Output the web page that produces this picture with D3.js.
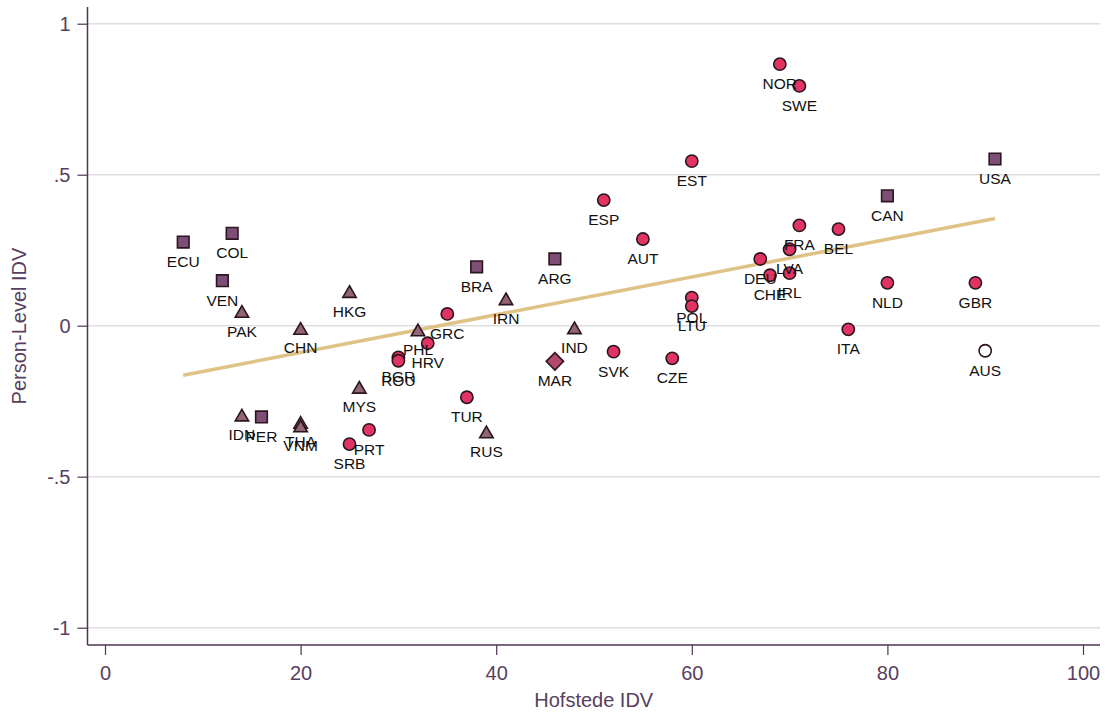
<!DOCTYPE html>
<html>
<head>
<meta charset="utf-8">
<script src="https://cdn.jsdelivr.net/npm/d3@7"></script>
<style>
  html, body { margin: 0; padding: 0; background: #fff; }
  svg { display: block; font-family: "Liberation Sans", Arial, Helvetica, sans-serif; }
</style>
</head>
<body>
<svg id="chart" width="1109" height="715"></svg>
<script>
// ---- data ----
const codes = ["ECU","COL","VEN","PER","BRA","ARG","CAN","USA",
  "PAK","HKG","CHN","IDN","THA","VNM","MYS","PHL","IRN","IND","RUS",
  "MAR",
  "BGR","ROU","HRV","GRC","TUR","PRT","SRB","ESP","AUT","SVK","CZE","EST","POL","LTU",
  "NOR","SWE","DEU","CHE","FRA","LVA","IRL","BEL","NLD","ITA","GBR",
  "AUS"];
const hofstedeIDV = [8,13,12,16,38,46,80,91,
  14,25,20,14,20,20,26,32,41,48,39,
  46,
  30,30,33,35,37,27,25,51,55,52,58,60,60,60,
  69,71,67,68,71,70,70,75,80,76,89,
  90];
const personIDV = [0.277,0.306,0.149,-0.302,0.195,0.221,0.430,0.552,
  0.047,0.113,-0.009,-0.296,-0.320,-0.332,-0.204,-0.014,0.089,-0.007,-0.352,
  -0.118,
  -0.105,-0.116,-0.058,0.039,-0.237,-0.345,-0.392,0.416,0.287,-0.086,-0.108,0.545,0.093,0.065,
  0.866,0.794,0.221,0.167,0.332,0.253,0.174,0.320,0.142,-0.012,0.142,
  -0.083];
const groups = ["Americas","Americas","Americas","Americas","Americas","Americas","Americas","Americas",
  "Asia","Asia","Asia","Asia","Asia","Asia","Asia","Asia","Asia","Asia","Asia",
  "Africa",
  "Europe","Europe","Europe","Europe","Europe","Europe","Europe","Europe","Europe","Europe","Europe","Europe","Europe","Europe",
  "Europe","Europe","Europe","Europe","Europe","Europe","Europe","Europe","Europe","Europe","Europe",
  "Oceania"];
// fitted line endpoints (linear fit)
const fitX = [8, 91];
const fitY = [-0.164, 0.355];

const xTicks = [0, 20, 40, 60, 80, 100];
const yTicks = [-1, -0.5, 0, 0.5, 1];
const yTickLabels = ["-1", "-.5", "0", ".5", "1"];

// ---- layout ----
const svg = d3.select("#chart");
const pLeft = 87.5, pRight = 1100, pTop = 7, pBottom = 645;
const x = d3.scaleLinear().domain([0, 100]).range([105, 1083]);
const y = d3.scaleLinear().domain([-1, 1]).range([627.7, 23.7]);

const txtColor = "#574060";
const axisColor = "#4e3453";

// gridlines
svg.append("g").selectAll("line").data(yTicks).join("line")
  .attr("x1", pLeft).attr("x2", pRight)
  .attr("y1", d => y(d)).attr("y2", d => y(d))
  .attr("stroke", "#dedede").attr("stroke-width", 1.5);

// axes
const yAxis = d3.axisLeft(y).tickValues(yTicks)
  .tickFormat(d => yTickLabels[yTicks.indexOf(d)])
  .tickSize(10).tickPadding(7);
const gy = svg.append("g").attr("transform", `translate(${pLeft},0)`).call(yAxis);
gy.select(".domain").remove();
gy.append("line").attr("x1", 0).attr("x2", 0).attr("y1", pTop).attr("y2", pBottom)
  .attr("stroke", axisColor).attr("stroke-width", 1.5);

const xAxis = d3.axisBottom(x).tickValues(xTicks).tickFormat(d3.format("d"))
  .tickSize(10).tickPadding(11);
const gx = svg.append("g").attr("transform", `translate(0,${pBottom})`).call(xAxis);
gx.select(".domain").remove();
gx.append("line").attr("x1", pLeft).attr("x2", pRight).attr("y1", 0).attr("y2", 0)
  .attr("stroke", axisColor).attr("stroke-width", 1.5);

[gx, gy].forEach(g => {
  g.selectAll(".tick line").attr("stroke", axisColor).attr("stroke-width", 1.2);
  g.selectAll(".tick text").attr("fill", txtColor)
    .style("font-size", "20px").style("font-family", "'Liberation Sans', Arial, sans-serif");
});

// axis titles
svg.append("text").attr("x", (pLeft + pRight) / 2).attr("y", 707)
  .attr("text-anchor", "middle").attr("fill", txtColor)
  .style("font-size", "20px").text("Hofstede IDV");
svg.append("text")
  .attr("transform", `translate(26,${(pTop + pBottom) / 2}) rotate(-90)`)
  .attr("text-anchor", "middle").attr("fill", txtColor)
  .style("font-size", "20px").text("Person-Level IDV");

// fit line
svg.append("path")
  .datum(fitX.map((v, i) => [v, fitY[i]]))
  .attr("d", d3.line().x(d => x(d[0])).y(d => y(d[1])))
  .attr("fill", "none").attr("stroke", "#dfc286").attr("stroke-width", 3.5);

// symbols
const triangleBox = {
  draw(ctx, size) {
    const s = Math.sqrt(size * 4 / Math.sqrt(3));
    const h = s * Math.sqrt(3) / 2;
    ctx.moveTo(0, -h / 2); ctx.lineTo(s / 2, h / 2); ctx.lineTo(-s / 2, h / 2); ctx.closePath();
  }
};
const diamondSq = {
  draw(ctx, size) {
    const r = Math.sqrt(size) / Math.SQRT2;
    ctx.moveTo(0, -r); ctx.lineTo(r, 0); ctx.lineTo(0, r); ctx.lineTo(-r, 0); ctx.closePath();
  }
};
const style = {
  Europe:   { type: d3.symbolCircle, size: 118, fill: "#e13462" },
  Americas: { type: d3.symbolSquare, size: 135, fill: "#7d4f76" },
  Asia:     { type: triangleBox,     size: 78,  fill: "#916574" },
  Africa:   { type: diamondSq,       size: 150, fill: "#b44a6b" },
  Oceania:  { type: d3.symbolCircle, size: 118, fill: "#ffffff" }
};

const pts = codes.map((c, i) => ({ code: c, x: hofstedeIDV[i], y: personIDV[i], g: groups[i] }));

svg.append("g").selectAll("path").data(pts).join("path")
  .attr("transform", d => `translate(${x(d.x)},${y(d.y)})`)
  .attr("d", d => d3.symbol().type(style[d.g].type).size(style[d.g].size)())
  .attr("fill", d => style[d.g].fill)
  .attr("stroke", "#2b1520").attr("stroke-width", 1.6);

svg.append("g").selectAll("text").data(pts).join("text")
  .attr("x", d => x(d.x)).attr("y", d => y(d.y) + 25)
  .attr("text-anchor", "middle").attr("fill", "#111")
  .style("font-size", "15.5px").text(d => d.code);
</script>
</body>
</html>
